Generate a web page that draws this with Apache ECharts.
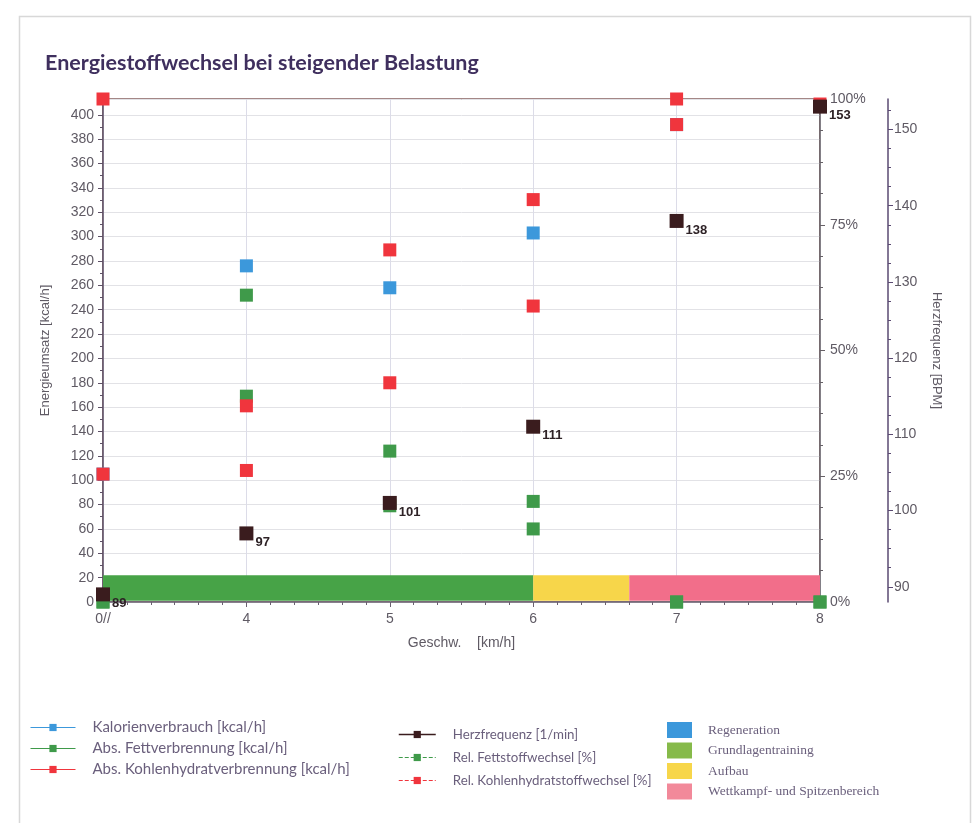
<!DOCTYPE html>
<html><head><meta charset="utf-8">
<script src="https://cdn.jsdelivr.net/npm/echarts@6/dist/echarts.min.js"></script>
<style>html,body{margin:0;padding:0;background:#fff}#c{width:975px;height:823px}</style>
</head><body><div id="c"></div>
<script>
// ---- data ----
const speeds = [3, 4, 5, 6, 7, 8];
const firstSpeedLabel = '0//';
const kalorien = [105, 276, 258, 303, 392, null];
const absFett = [0, 169, 79, 60, 0, 0];
const absKH = [105, 108, 180, 243, 392, null];
const herz = [89, 97, 101, 111, 138, 153];
const relFett = [0, 61, 30, 20, 0, 0];
const relKH = [100, 39, 70, 80, 100, 99];
const zoneNames = ['Regeneration', 'Grundlagentraining', 'Aufbau', 'Wettkampf- und Spitzenbereich'];
const zoneFrom = [null, 3, 6, 6.67];
const zoneTo = [null, 6, 6.67, 8];
const zoneBottom = 1;
const zoneTop = 22;
const hrTickLabels = [90, 100, 110, 120, 130, 140, 150];
const hrMinorTicks = [92.5, 95, 97.5, 102.5, 105, 107.5, 112.5, 115, 117.5, 122.5, 125, 127.5, 132.5, 135, 137.5, 142.5, 145, 147.5, 152.5];

// ---- styles ----
const C = {
  blue: '#3c98db', green: '#3f9a4a', red: '#f0353d', hr: '#3a1c1e',
  zone: ['#3c98db', '#47a347', '#f7d64a', '#f26e8a'],
  zoneLegend: ['#3c98db', '#86ba4a', '#f7d64a', '#f2899a']
};
const pair = arr => speeds.map((s, i) => [s, arr[i]]);

const chart = echarts.init(document.getElementById('c'), null, {renderer: 'canvas'});

function markerSeries(name, arr, color, yIdx, extra) {
  return Object.assign({
    name, type: 'line', data: pair(arr), yAxisIndex: yIdx,
    symbol: 'rect', symbolSize: 13, showSymbol: true,
    itemStyle: {color}, lineStyle: {color, opacity: 0},
    z: 5, animation: false, connectNulls: false
  }, extra || {});
}

const series = [
  markerSeries('Kalorienverbrauch [kcal/h]', kalorien, C.blue, 0),
  markerSeries('Abs. Fettverbrennung [kcal/h]', absFett, C.green, 0),
  markerSeries('Abs. Kohlenhydratverbrennung [kcal/h]', absKH, C.red, 0),
  markerSeries('Rel. Fettstoffwechsel [%]', relFett, C.green, 1),
  markerSeries('Rel. Kohlenhydratstoffwechsel [%]', relKH, C.red, 1),
  markerSeries('Herzfrequenz [1/min]', herz, C.hr, 2, {
    symbolSize: 14, z: 6,
    label: {show: true, position: 'right', distance: 2, offset: [0, 9],
      formatter: p => p.value[1], fontFamily: 'Liberation Sans', fontWeight: 'bold',
      fontSize: 13, color: '#2e2226'}
  })
];

zoneNames.forEach((n, i) => {
  series.push({
    name: n, type: 'custom', xAxisIndex: 0, yAxisIndex: 0, z: 2,
    itemStyle: {color: C.zone[i]},
    encode: {x: [0, 1], y: [2, 3]},
    data: zoneFrom[i] == null ? [] : [[zoneFrom[i], zoneTo[i], zoneBottom, zoneTop]],
    renderItem(params, api) {
      const a = api.coord([api.value(0), api.value(3)]);
      const b = api.coord([api.value(1), api.value(2)]);
      return {type: 'rect', shape: {x: a[0], y: a[1], width: b[0] - a[0], height: b[1] - a[1]},
        style: {fill: api.visual('color')}};
    },
    animation: false
  });
});

const axisText = {fontFamily: 'Liberation Sans', fontSize: 14, color: '#5f5a64'};

const option = {
  backgroundColor: '#ffffff',
  animation: false,
  graphic: [{
    type: 'rect', left: 17, top: 14, silent: true, z: -10,
    shape: {width: 951, height: 830},
    style: {fill: 'none', stroke: '#d8d8d8', lineWidth: 1.5}
  }],
  title: {
    text: 'Energiestoffwechsel bei steigender Belastung', left: 40, top: 47,
    textStyle: {fontFamily: 'Lato', fontWeight: 'bold', fontSize: 21.5, color: '#3f2f5e'}
  },
  grid: {left: 103, right: 155, top: 99, bottom: 221, show: true,
    borderColor: '#86605f', borderWidth: 1.5, backgroundColor: 'transparent'},
  xAxis: {
    type: 'value', min: 3, max: 8, interval: 1,
    name: 'Geschw.    [km/h]', nameLocation: 'middle', nameGap: 34,
    nameTextStyle: axisText,
    axisLine: {lineStyle: {color: '#6a6070', width: 1.5}},
    axisTick: {show: true, length: 5, lineStyle: {color: '#6a6070'}},
    minorTick: {show: true, splitNumber: 6, length: 3, lineStyle: {color: '#6a6070'}},
    axisLabel: Object.assign({margin: 10, formatter: v => v === speeds[0] ? firstSpeedLabel : v}, axisText),
    splitLine: {show: true, lineStyle: {color: '#dcdce8'}}
  },
  yAxis: [
    {
      type: 'value', position: 'left', min: 0, max: 413, interval: 20,
      name: 'Energieumsatz [kcal/h]', nameLocation: 'middle', nameGap: 51, nameRotate: 90,
      nameTextStyle: Object.assign({}, axisText, {fontSize: 13}),
      axisLine: {show: true, lineStyle: {color: '#5e5066', width: 1.5}},
      axisTick: {show: true, length: 5, lineStyle: {color: '#5e5066'}},
      minorTick: {show: true, splitNumber: 2, length: 3, lineStyle: {color: '#5e5066'}},
      axisLabel: Object.assign({showMaxLabel: false, margin: 9}, axisText),
      splitLine: {show: true, lineStyle: {color: '#e2e2e6'}}
    },
    {
      type: 'value', position: 'right', min: 0, max: 100, interval: 25,
      axisLine: {show: true, lineStyle: {color: '#666066', width: 1.5}},
      axisTick: {show: true, length: 5, lineStyle: {color: '#666066'}},
      minorTick: {show: true, splitNumber: 4, length: 3, lineStyle: {color: '#666066'}},
      axisLabel: Object.assign({formatter: '{value}%', margin: 10}, axisText),
      splitLine: {show: false}
    },
    {
      type: 'value', position: 'right', offset: 68, min: 88, max: 154,
      name: 'Herzfrequenz [BPM]', nameLocation: 'middle', nameGap: 42, nameRotate: -90,
      nameTextStyle: Object.assign({}, axisText, {fontSize: 13}),
      axisLine: {show: true, lineStyle: {color: '#5a4a72', width: 1.5}},
      axisTick: {show: true, length: 5, customValues: hrTickLabels, lineStyle: {color: '#5a4a72'}},
      axisLabel: Object.assign({customValues: hrTickLabels, margin: 6}, axisText),
      splitLine: {show: false}
    },
    {
      type: 'value', position: 'right', offset: 68, min: 88, max: 154,
      axisLine: {show: false},
      axisTick: {show: true, length: 3, customValues: hrMinorTicks, lineStyle: {color: '#5a4a72'}},
      axisLabel: {show: false},
      splitLine: {show: false}
    }
  ],
  legend: [
    {
      orient: 'vertical', left: 25, top: 715, itemWidth: 45, itemHeight: 9, itemGap: 6,
      selectedMode: false,
      textStyle: {fontFamily: 'Lato', fontSize: 15, color: '#6a5f7c', padding: [0, 0, 0, 12]},
      data: [
        {name: 'Kalorienverbrauch [kcal/h]', lineStyle: {opacity: 1, width: 1, type: 'solid'}},
        {name: 'Abs. Fettverbrennung [kcal/h]', lineStyle: {opacity: 1, width: 1, type: 'solid'}},
        {name: 'Abs. Kohlenhydratverbrennung [kcal/h]', lineStyle: {opacity: 1, width: 1, type: 'solid'}}
      ]
    },
    {
      orient: 'vertical', left: 393, top: 723, itemWidth: 37, itemHeight: 9, itemGap: 10,
      selectedMode: false,
      textStyle: {fontFamily: 'Lato', fontSize: 13.3, color: '#6a5f7c', padding: [0, 0, 0, 12]},
      data: [
        {name: 'Herzfrequenz [1/min]', lineStyle: {opacity: 1, width: 1.5, type: 'solid'}},
        {name: 'Rel. Fettstoffwechsel [%]', lineStyle: {opacity: 1, width: 1, type: 'dashed'}},
        {name: 'Rel. Kohlenhydratstoffwechsel [%]', lineStyle: {opacity: 1, width: 1, type: 'dashed'}}
      ]
    },
    {
      orient: 'vertical', left: 662, top: 717, itemWidth: 25, itemHeight: 16, itemGap: 4.5,
      selectedMode: false, icon: 'rect',
      textStyle: {fontFamily: 'Liberation Serif', fontSize: 13.5, color: '#6a5f7c', padding: [0, 0, 0, 11]},
      data: zoneNames.map((n, i) => ({name: n, itemStyle: {color: C.zoneLegend[i]}}))
    }
  ],
  series
};
chart.setOption(option);
</script>
</body></html>
